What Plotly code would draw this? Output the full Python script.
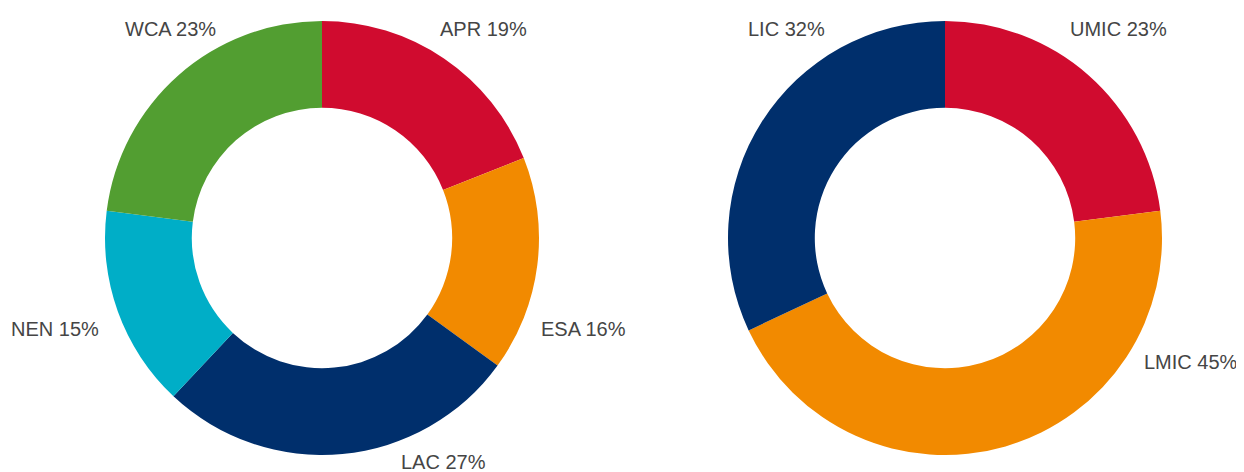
import plotly.graph_objects as go

# left donut: regions
region_labels = ["APR", "ESA", "LAC", "NEN", "WCA"]
region_values = [19, 16, 27, 15, 23]
region_colors = ["#D00B2F", "#F28A00", "#002F6C", "#00AEC7", "#529E31"]

# right donut: income groups
income_labels = ["UMIC", "LMIC", "LIC"]
income_values = [23, 45, 32]
income_colors = ["#D00B2F", "#F28A00", "#002F6C"]

W, H = 1244, 472
OFF = 8  # page body margin in the exported html
R = 217
CY = 238

# where the labels sit (page pixels), same order as the data
region_label_pos = [(483, 29), (583, 329), (443, 462), (55, 329), (170, 29)]
income_label_pos = [(1118, 29), (1191, 362), (786, 29)]


def px_x(x):
    return (x - OFF) / W


def px_y(y):
    return 1 - (y - OFF) / H


def dom(cx):
    return dict(x=[px_x(cx - R), px_x(cx + R)], y=[px_y(CY + R), px_y(CY - R)])


common = dict(
    hole=0.6,
    sort=False,
    direction="clockwise",
    rotation=0,
    textinfo="none",
    hoverinfo="label+value",
    showlegend=False,
)

fig = go.Figure()
fig.add_trace(go.Pie(
    labels=region_labels, values=region_values,
    marker=dict(colors=region_colors, line=dict(width=0)),
    domain=dom(322),
    **common,
))
fig.add_trace(go.Pie(
    labels=income_labels, values=income_values,
    marker=dict(colors=income_colors, line=dict(width=0)),
    domain=dom(945),
    **common,
))

for labels, values, pos in [
    (region_labels, region_values, region_label_pos),
    (income_labels, income_values, income_label_pos),
]:
    for lab, val, (x, y) in zip(labels, values, pos):
        fig.add_annotation(
            x=px_x(x), y=px_y(y), xref="paper", yref="paper",
            text=f"{lab} {val}%", showarrow=False,
            xanchor="center", yanchor="middle",
            font=dict(family="Liberation Sans", size=20, color="#454545"),
        )

fig.update_layout(
    width=W, height=H,
    margin=dict(l=0, r=0, t=0, b=0),
    paper_bgcolor="white",
    plot_bgcolor="white",
)
fig.write_html("out.html")
